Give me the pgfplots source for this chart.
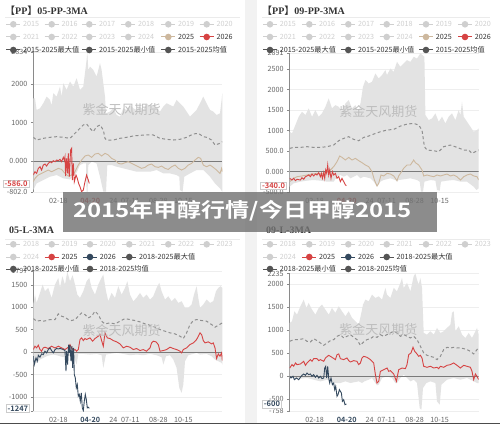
\documentclass[border=0pt]{standalone}
\usepackage{fontspec}
\usepackage{pgfplots}
\pgfplotsset{compat=1.18}
\setmainfont{Noto Sans CJK SC}[BoldFont={Noto Sans CJK SC Bold}]
\newfontfamily\serifb{Liberation Serif}
\definecolor{bandc}{HTML}{E3E3E3}
\definecolor{meanc}{HTML}{8F8F8F}
\definecolor{tanc}{HTML}{CDB89E}
\definecolor{redc}{HTML}{D64343}
\definecolor{navyc}{HTML}{34495E}
\definecolor{lightleg}{HTML}{CFCFCF}
\definecolor{darkleg}{HTML}{555555}
\definecolor{txtc}{HTML}{333333}
\definecolor{labc}{HTML}{666666}
\definecolor{gridc}{HTML}{EEEEEE}
\definecolor{axisc}{HTML}{8A8A8A}
\definecolor{zeroc}{HTML}{7A7A7A}
\definecolor{wmc}{HTML}{BDBDBD}
\definecolor{boxc}{HTML}{CCCCCC}
\newcommand{\legfont}{\fontsize{7.2}{8}\selectfont}
\newcommand{\legitem}[5]{%
  \draw[#3, line width=1pt] (#1pt-7pt,#2pt) -- (#1pt+7pt,#2pt);
  \fill[#3] (#1pt,#2pt) circle (3.3pt);
  \node[anchor=west, text=#5, inner sep=0pt, font=\legfont] at (#1pt+9.7pt,#2pt) {#4};}
\pgfplotsset{
  panel/.style={
    scale only axis, width=189pt, xmin=0, xmax=189, clip=true,
    axis x line*=bottom, axis y line*=left,
    x axis line style={draw=none},
    y axis line style={draw=axisc, line width=0.6pt, -},
    xtick={25,57,80,97,125,150},
    xtick style={draw=none},
    ytick style={draw=axisc, line width=0.5pt},
    tick align=outside, major tick length=2.5pt,
    ymajorgrids, grid style={draw=gridc, line width=0.5pt},
    tick label style={font=\fontsize{7.2}{8}\selectfont, text=labc},
  },
}
\tikzset{ptbox/.style={draw=boxc, fill=white, inner xsep=1.5pt, inner ysep=1pt,
    font=\bfseries\fontsize{7.5}{8}\selectfont, line width=0.4pt}}
\begin{document}
\begin{tikzpicture}
\fill[white] (0pt,0pt) rectangle (500pt,424pt);
\fill[black!5] (245pt,0pt) rectangle (257pt,424pt);
\draw[black!70, line width=1.2pt] (0pt,0.6pt) -- (500pt,0.6pt);

% ---------- titles and separators
\node[anchor=west, text=txtc, inner sep=0pt, font=\fontsize{10}{12}\selectfont\bfseries] at (5pt,413pt) {【{\serifb PP}】{\serifb 05-PP-3MA}};
\node[anchor=west, text=txtc, inner sep=0pt, font=\fontsize{10}{12}\selectfont\bfseries] at (262pt,413pt) {【{\serifb PP}】{\serifb 09-PP-3MA}};
\node[anchor=west, text=txtc, inner sep=0pt, font=\fontsize{10}{12}\selectfont\bfseries] at (9pt,193.5pt) {\serifb 05-L-3MA};
\node[anchor=west, text=txtc, inner sep=0pt, font=\fontsize{10}{12}\selectfont\bfseries] at (266pt,194pt) {\serifb 09-L-3MA};
\draw[black!8, line width=0.8pt] (5pt,406.7pt) -- (240pt,406.7pt);
\draw[black!8, line width=0.8pt] (262pt,406.7pt) -- (490pt,406.7pt);
\draw[black!8, line width=0.8pt] (5pt,185pt) -- (240pt,185pt);
\draw[black!8, line width=0.8pt] (262pt,185pt) -- (490pt,185pt);

% ================= Panel 1 =================
\begin{axis}[panel, at={(33.3pt,371.7pt)}, anchor=north west, height=139.5pt,
  ymin=-802, ymax=2834,
  ytick={-802,0,1000,2000,2834}, yticklabels={-802.0,0.000,1000,2000,2834},
  xticklabels={02-18,{\bfseries\color{redc}04-20},24,07-11,08-28,10-15}]
% band: 2015-2025 max (left to right), then min (right to left)
\addplot[fill=bandc, draw=none] coordinates {(0,1636)(1.7,1636)(3.3,1331)(6.7,1375)(10,1505)(13.3,1679)(16.7,1592)(18.3,1450)(20,1766)(23.3,1679)(26.7,1940)(28.3,1679)(30,2027)(33.3,1853)(36.7,2071)(40,1940)(43.3,2158)(46.7,1853)(50,1940)(53.3,2636)(54,2834)(55,2375)(56.7,2462)(60,2375)(63.3,2201)(66.7,2549)(68.3,2375)(70,2027)(71.7,1679)(72.7,1244)(76.7,1288)(80,1375)(83.3,1201)(86.7,1157)(90,1375)(93.3,1331)(96.7,1462)(100,1375)(103.3,1331)(106.7,1418)(110,1331)(113.3,1505)(116.7,1418)(120,1462)(123.3,1375)(126.7,1288)(130,1418)(133.3,1505)(136.7,1462)(140,1418)(143.3,1592)(146.7,1505)(150,1418)(153.3,1288)(156.7,1157)(160,1244)(163.3,1331)(166.7,1505)(170,1679)(173.3,1505)(176.7,1331)(180,1288)(183.3,1201)(186.7,1244)(188.3,1592)(189,1766)
(189,-800)(186.7,-713)(181.7,-583)(176.7,-409)(170,-235)(163.3,-235)(156.7,-322)(151,-409)(149.3,-800)(146.7,-757)(146,-409)(143.3,-365)(136.7,-322)(130,-322)(123.3,-235)(116.7,-278)(110,-278)(103.3,-278)(96.7,-235)(90,-191)(83.3,-148)(78.3,-104)(74,-104)(72.7,-800)(70,-800)(66.7,-409)(63.3,-61)(58.3,-17)(55,-104)(54.3,-802)(53.3,-802)(52.7,-61)(50,-61)(46.7,-104)(43.3,-300)(36.7,-480)(30,-450)(23.3,-365)(16.7,-409)(10,-496)(3.3,-583)(0,-757)};
\draw[zeroc, line width=0.8pt] (0,0) -- (189,0);
\addplot[meanc, dash pattern=on 3pt off 2.5pt, line width=1pt] coordinates {(0,618)(3.3,548)(10,592)(16.7,618)(23.3,635)(30,618)(36.7,592)(40,679)(45,809)(50,940)(53.3,966)(56.7,853)(60,766)(63.3,896)(66.7,940)(70,809)(71.7,592)(73.3,548)(80,548)(86.7,592)(93.3,618)(100,653)(106.7,670)(113.3,679)(120,679)(126.7,592)(133.3,566)(140,548)(146.7,566)(153.3,618)(160,705)(165,722)(170,635)(173.3,618)(178.3,548)(181.7,418)(186.7,461)(189,505)};
\addplot[tanc, line width=0.9pt] coordinates {(0,-539)(1.7,-452)(5,-365)(8.3,-322)(11.7,-278)(15,-235)(18.3,-278)(21.7,-235)(25,-191)(28.3,-218)(31.7,-322)(35,-392)(38.3,-365)(41.7,-278)(45,-104)(48.3,26)(51.7,131)(55,157)(58.3,96)(61.7,183)(65,200)(68.3,131)(71.7,200)(75,157)(78.3,70)(81.7,26)(85,-61)(88.3,-78)(91.7,-44)(95,-17)(98.3,-61)(101.7,-104)(105,-148)(108.3,-191)(111.7,-165)(115,-104)(118.3,-78)(121.7,-148)(125,-165)(128.3,-131)(131.7,-191)(135,-218)(138.3,-148)(141.7,-104)(145,-191)(148.3,-235)(151.7,-191)(155,-104)(158.3,-61)(161.7,26)(165,96)(167.3,70)(170,-104)(173.3,-148)(176.7,-104)(180,-165)(183.3,-235)(186.7,-322)(188.3,-191)(189,-278)};
\addplot[redc, line width=0.9pt] coordinates {(0,-365)(1.7,-278)(3.3,-322)(5,-191)(6.7,-148)(8.3,-235)(10,-104)(11.7,-78)(13.3,-131)(15,-61)(16.7,-17)(18.3,-44)(20,9)(21.7,-17)(23.3,26)(25,9)(26.7,44)(28.3,-17)(30,96)(31,26)(31.7,113)(32.3,-392)(33.3,70)(34.3,-322)(35,200)(36,-409)(37.3,287)(38.3,331)(39,-496)(40,-61)(41,-539)(42.7,-365)(44,-452)(45.3,-583)(46.7,-670)(48.3,-800)(50,-757)(51.7,-539)(53.3,-365)(55,-496)(56,-586)};
\coordinate (p1pt) at (0,-586);
\end{axis}

% ================= Panel 2 =================
\begin{axis}[panel, at={(289.7pt,371.1pt)}, anchor=north west, height=139.3pt,
  ymin=-500, ymax=2891,
  ytick={-500,0,500,1000,1500,2000,2500,2891}, yticklabels={-500.0,0.000,500.0,1000,1500,2000,2500,2891},
  xticklabels={02-18,{\bfseries\color{redc}04-20},24,07-11,08-28,10-15}]
\addplot[fill=bandc, draw=none] coordinates {(0,972)(2.3,932)(5.7,1134)(9,1337)(12.3,1458)(15.7,1377)(19,1539)(22.3,1337)(25.7,1499)(29,1337)(32.3,1418)(35.7,1580)(39,1782)(42.3,1539)(45.7,1620)(49,1580)(52.3,1458)(55.7,1661)(59,1742)(62.3,1539)(65.7,1620)(69,1418)(71.3,1742)(73.3,2066)(75.7,2228)(79,2147)(82.3,2187)(85.7,2390)(89,2268)(92.3,2349)(95.7,2471)(97.3,2349)(100.7,2511)(104,2430)(107.3,2673)(110.7,2552)(114,2633)(117.3,2714)(120.7,2673)(124,2795)(127.3,2754)(130.7,2880)(134.7,2795)(135.7,1377)(139,1256)(142.3,1296)(145.7,1418)(149,1215)(152.3,1337)(155.7,1175)(159,1337)(162.3,1418)(165.7,1256)(169,1499)(170.7,1377)(172.3,1701)(174,1337)(177.3,1215)(180.7,1094)(184,972)(187.3,1013)(189,1053)
(189,-405)(186.7,-446)(184,-365)(177.3,-243)(170.7,-243)(164,-203)(157.3,-219)(151.3,-243)(150,-462)(147.3,-446)(145.7,-219)(140.7,-203)(134.7,-243)(133.3,-486)(131.3,-486)(130,-243)(127.3,-203)(120.7,-162)(114,-186)(109,-203)(107.3,-243)(105.7,-203)(100.7,-162)(94,-203)(90.7,-243)(87.3,-365)(84,-243)(80.7,-162)(74,-122)(70.7,-162)(67.3,-81)(64,-122)(60.7,-162)(57.3,-81)(54,-122)(50.7,-81)(47.3,-122)(44,-243)(37.3,-243)(30.7,-219)(24,-203)(17.3,-219)(10.7,-243)(4,-284)(0,-365)};
\draw[zeroc, line width=0.8pt] (0,0) -- (189,0);
\addplot[meanc, dash pattern=on 3pt off 2.5pt, line width=1pt] coordinates {(0,567)(4,591)(10.7,591)(17.3,608)(24,591)(30.7,591)(37.3,608)(44,648)(49,753)(54,810)(59,851)(64,786)(69,753)(74,834)(79,867)(84,915)(90.7,972)(97.3,1013)(104,1029)(110.7,1110)(117.3,1158)(124,1175)(129,1134)(132.3,1013)(134.7,608)(137.3,527)(144,510)(149,486)(154,608)(160.7,648)(167.3,591)(174,527)(179,527)(182.3,446)(185.7,486)(189,527)};
\addplot[tanc, line width=0.9pt] coordinates {(0,-243)(4,-162)(7.3,-122)(12.3,-105)(17.3,-81)(22.3,-57)(27.3,-41)(32.3,-57)(37.3,0)(40.7,41)(44,122)(47.3,243)(50,381)(52.3,348)(55.7,284)(59,348)(62.3,284)(65.7,324)(69,267)(72.3,219)(75.7,162)(79,122)(82.3,0)(84.7,-203)(87.3,-348)(89,-284)(91.3,-81)(94,-105)(97.3,-41)(100.7,-57)(104,-105)(105.7,-162)(107.3,-219)(109,-105)(110.7,-41)(114,81)(117.3,162)(120.7,162)(124,284)(125.7,219)(129,162)(132.3,41)(134,-105)(137.3,-81)(140.7,-105)(144,-122)(147.3,-81)(150.7,-105)(154,-81)(157.3,-57)(160.7,-105)(164,-81)(167.3,-122)(170.7,-203)(174,-122)(177.3,-81)(180.7,-57)(184,-105)(187.3,-122)(189,-203)};
\addplot[redc, line width=0.9pt] coordinates {(0,-162)(2.3,-203)(4,-162)(5.7,-219)(7.3,-186)(10.7,-203)(12.3,-146)(14,-186)(15.7,-122)(17.3,-105)(19,-81)(20.7,-122)(22.3,-57)(24,-105)(25.7,-57)(27.3,-81)(29,-24)(30.7,-122)(31.7,-41)(32.7,-162)(34,-24)(35,-162)(36,41)(37,-41)(38,162)(39,-81)(40,41)(41.3,-162)(42.7,0)(44,-81)(45.7,-41)(47.3,-162)(49,-122)(50.7,-243)(52.3,-162)(54,-243)(55.7,-324)(56.7,-340)};
\coordinate (p2pt) at (0,-340);
\end{axis}

% ================= Panel 3 =================
\begin{axis}[panel, at={(33.3pt,152.6pt)}, anchor=north west, height=139.8pt,
  ymin=-1312, ymax=1797,
  ytick={-1312,-1000,-500,0,500,1000,1500,1797}, yticklabels={-1312,-1000,-500,0,500,1000,1500,1797},
  xticklabels={02-18,{\bfseries\color{navyc}04-20},24,07-11,08-28,10-15}]
\addplot[fill=bandc, draw=none] coordinates {(0,1060)(1.7,1282)(3.3,1097)(6.7,1319)(9.3,1504)(11.7,1356)(15,1430)(18.3,1208)(21.7,1504)(25,1652)(26.7,1430)(29,1689)(31.7,1504)(34,1790)(36.7,1578)(39.3,1712)(41.7,1504)(44,1282)(46.7,1208)(50,1356)(53.3,1578)(56,1652)(58.3,1430)(61.7,1282)(65,1504)(67.3,1615)(70,1727)(72.7,1356)(75,1134)(78.3,1319)(81.7,1208)(85,1467)(88.3,1282)(91.7,1430)(94,1578)(96.7,1282)(100,1134)(103.3,1208)(106.7,1319)(110,1208)(113.3,1282)(116.7,1171)(120,1245)(123.3,1430)(126,1541)(128.3,1356)(131.7,1171)(135,1245)(138.3,1134)(141.7,1208)(145,1097)(148.3,1134)(151.7,986)(155,986)(158.3,1060)(160.7,1282)(163.3,1467)(165,1208)(166.7,986)(170,1060)(173.3,1171)(176.7,1097)(180,1134)(182.7,1356)(185,1430)(187.3,1467)(189,1430)
(189,-274)(188.3,-237)(185,-200)(181.7,-163)(178.3,-89)(173.3,-37)(166.7,-52)(163.3,-15)(160,-37)(155,-67)(151.7,-200)(150,-719)(148.3,-904)(146,-793)(143.3,-348)(140,-163)(136.7,-67)(132.7,-89)(130,-274)(128.3,-111)(123.3,-67)(116.7,-37)(110,-67)(103.3,-52)(96.7,-67)(90,-37)(83.3,-15)(76.7,-37)(72.7,-52)(70,-348)(68.3,-67)(63.3,-37)(56.7,-52)(50,-37)(45,-37)(43.3,-274)(40,-67)(36.7,-89)(33.3,-67)(30,-111)(26.7,-89)(23.3,-67)(20,-52)(16.7,-67)(13.3,-89)(10,-126)(6.7,-163)(3.3,-237)(0,-274)};
\draw[zeroc, line width=0.8pt] (0,0) -- (189,0);
\addplot[meanc, dash pattern=on 3pt off 2.5pt, line width=1pt] coordinates {(0,748)(3.3,689)(6.7,704)(10,689)(13.3,704)(16.7,726)(21.7,726)(25,852)(28.3,800)(31.7,778)(35,726)(38.3,704)(41.7,726)(45,800)(48.3,874)(51.7,837)(55,763)(58.3,800)(61.7,911)(65,837)(68.3,689)(71.7,630)(76.7,652)(81.7,630)(86.7,689)(91.7,748)(96.7,726)(101.7,704)(106.7,674)(111.7,630)(116.7,600)(121.7,556)(126.7,504)(131.7,467)(136.7,430)(141.7,408)(146.7,356)(150,304)(153.3,430)(156.7,615)(160,704)(163.3,726)(168.3,704)(173.3,689)(178.3,615)(181.7,556)(185,600)(189,652)};
\addplot[redc, line width=0.9pt] coordinates {(0,59)(1.7,133)(3.3,96)(5,156)(6.7,59)(8.3,22)(10,96)(11.7,111)(15,82)(18.3,133)(21.7,96)(25,133)(28.3,96)(31.7,59)(35,111)(36.7,170)(38.3,96)(40,37)(41.7,59)(43.3,22)(45,59)(46.7,282)(48.3,319)(50,259)(51.7,304)(53.3,282)(56.7,319)(59.3,245)(61.7,304)(65,356)(66.7,393)(68.3,259)(70,133)(71.7,430)(74,319)(76.7,304)(80,259)(83.3,230)(86.7,185)(90,96)(93.3,133)(96.7,111)(100,59)(103.3,82)(106.7,37)(110,59)(113.3,22)(116.7,96)(118.3,207)(120,245)(122.7,230)(125,170)(126.7,22)(130,37)(133.3,59)(136.7,111)(140,82)(143.3,59)(146.7,22)(148.3,-15)(150,59)(153.3,96)(156.7,170)(160,207)(163.3,282)(165,356)(166.7,430)(168.3,393)(170,259)(171.7,207)(175,230)(178.3,185)(180,207)(181.7,96)(183.3,-141)(185,-37)(186.7,-89)(188.3,-15)(189,-185)};
\addplot[navyc, line width=0.9pt] coordinates {(0,-89)(1,-274)(2.7,-126)(4,-200)(5,-67)(6.7,-111)(8.3,-37)(10,-52)(11.7,22)(13.3,-15)(15,59)(16.7,96)(18.3,37)(20,-15)(21.7,59)(23.3,82)(25,74)(26.7,82)(28.3,74)(30,59)(31.7,37)(32.7,-422)(33.3,22)(34.3,-274)(35.3,170)(36,-15)(36.7,156)(37.7,-200)(38.7,133)(39.3,-348)(40.3,96)(41,-496)(42,-571)(43,-793)(44,-719)(45,-978)(46,-941)(47,-1089)(48,-904)(49,-1237)(50,-1300)(51,-1089)(52,-941)(53,-1052)(54,-1237)(55,-1223)(56,-1247)};
\coordinate (p3pt) at (0,-1247);
\end{axis}

% ================= Panel 4 =================
\begin{axis}[panel, at={(289.7pt,150.5pt)}, anchor=north west, height=137.7pt,
  ymin=-758, ymax=2235,
  ytick={-758,-500,0,500,1000,1500,2000,2235}, yticklabels={-758,-500,0,500,1000,1500,2000,2235},
  xticklabels={02-18,{\bfseries\color{navyc}04-20},24,07-11,08-28,10-15}]
\addplot[fill=bandc, draw=none] coordinates {(0,1160)(2.3,1196)(4.7,1414)(7.3,1341)(10.7,1523)(14,1668)(16.7,1486)(19,1595)(22.3,1450)(25.7,1341)(29,1486)(32.3,1559)(35.7,1450)(39,1341)(42.3,1486)(45.7,1378)(49,1523)(52.3,1414)(55.7,1305)(59,1414)(62.3,1269)(65.7,1196)(69,1124)(71.3,1341)(73.3,1559)(75.7,1668)(79,1631)(82.3,1776)(85.7,1704)(89,1740)(92.3,1668)(95.7,1921)(97.3,1776)(100.7,1704)(104,1921)(107.3,1849)(110.7,2030)(112.3,2139)(114,1921)(117.3,2030)(120.7,1849)(124,2175)(125.7,2235)(127.3,2103)(129,1994)(130.7,2139)(132.3,1921)(134,943)(137.3,906)(140.7,979)(144,906)(147.3,1051)(150.7,943)(154,979)(157.3,1051)(160.7,1124)(162.3,1378)(164,1414)(165.7,979)(169,1088)(172.3,906)(175.7,834)(179,943)(182.3,834)(185.7,979)(187.3,1051)(189,906)
(189,-145)(187.3,-145)(184,-109)(177.3,-36)(170.7,-73)(164,-36)(157.3,-73)(151.7,-181)(150,-616)(147.3,-544)(145.7,-145)(140.7,-109)(136.7,-145)(133.3,-254)(131.7,-725)(130,-689)(127.3,-145)(124,-73)(120.7,-109)(117.3,-36)(114,36)(110.7,-36)(107.3,-145)(105.7,-145)(102.3,-36)(97.3,0)(92.3,-36)(89,-181)(87.3,-196)(85.7,-145)(82.3,-36)(79,-73)(74.7,-109)(72.3,-145)(69,-109)(65.7,-123)(60.7,-145)(55.7,-109)(50.7,-145)(45.7,-145)(42.3,-109)(37.3,-73)(30.7,-109)(24,-73)(17.3,-36)(10.7,-51)(4,-36)(0,-36)};
\draw[zeroc, line width=0.8pt] (0,0) -- (189,0);
\addplot[meanc, dash pattern=on 3pt off 2.5pt, line width=1pt] coordinates {(0,761)(4,798)(9,798)(14,819)(17.3,761)(20.7,747)(24,819)(27.3,776)(30.7,725)(34,674)(37.3,725)(40.7,776)(44,798)(47.3,870)(50.7,906)(54,834)(57.3,870)(60.7,906)(64,848)(67.3,798)(70.7,674)(74,747)(77.3,798)(80.7,819)(84,870)(87.3,848)(90.7,906)(94,870)(97.3,906)(100.7,943)(104,979)(107.3,943)(110.7,870)(114,906)(117.3,870)(120.7,834)(124,870)(127.3,798)(130.7,653)(134,508)(137.3,457)(140.7,435)(144,413)(147.3,363)(150.7,435)(154,580)(157.3,631)(160.7,616)(164,631)(167.3,616)(170.7,616)(174,602)(177.3,580)(180.7,544)(184,486)(187.3,580)(189,631)};
\addplot[redc, line width=0.9pt] coordinates {(0,181)(2.3,254)(4,218)(5.7,290)(7.3,254)(10.7,268)(14,326)(15.7,239)(17.3,290)(20.7,363)(22.3,326)(24,384)(27.3,384)(29,341)(30.7,363)(34,326)(35.7,399)(39,457)(42.3,413)(45.7,363)(47.3,471)(49,486)(50.7,384)(54,363)(57.3,399)(59,341)(60.7,312)(64,341)(67.3,326)(69,254)(70.7,290)(72.3,399)(74,435)(77.3,413)(80.7,363)(84,290)(85.7,36)(87.3,-145)(89,-109)(90.7,109)(94,145)(97.3,181)(99,109)(100.7,123)(104,51)(106.7,-109)(109,145)(112.3,181)(115.7,167)(117.3,254)(119,471)(121.3,508)(123.3,631)(125,544)(127.3,486)(129,435)(130.7,457)(132.3,399)(134,218)(137.3,196)(140.7,218)(144,181)(147.3,196)(149,167)(150.7,218)(154,196)(157.3,239)(160.7,254)(164,290)(167.3,239)(170.7,181)(174,239)(177.3,218)(180.7,196)(182.3,109)(184,-72)(185.7,51)(187.3,0)(189,-72)};
\addplot[navyc, line width=0.9pt] coordinates {(0,0)(1.3,-36)(3.3,0)(4.7,-73)(6.7,-36)(9,-73)(10.7,-22)(12.3,22)(14,51)(15.7,22)(17.3,73)(19,36)(20.7,51)(22.3,0)(24,36)(25.7,-22)(27.3,22)(29,-36)(30.7,0)(32.3,-51)(34,-36)(35,181)(36,218)(37,-36)(38,218)(39,-36)(40,-145)(41.3,-36)(42.7,-181)(44,-145)(45,-290)(46,-218)(47.3,-435)(48.3,-399)(49.7,-290)(50.7,-326)(51.7,-363)(52.7,-544)(54,-508)(55.3,-616)(56.7,-600)};
\coordinate (p4pt) at (0,-600);
\end{axis}

% ---------- pointer label boxes
\node[ptbox, text=redc, anchor=east] at ([xshift=-4pt]p1pt) {-586.0};
\node[ptbox, text=redc, anchor=east] at ([xshift=-3pt]p2pt) {-340.0};
\node[ptbox, text=navyc, anchor=east] at ([xshift=-3.5pt]p3pt) {-1247};
\node[ptbox, text=navyc, anchor=east] at ([xshift=-8pt]p4pt) {-600};

% ---------- watermarks
\node[text=wmc, font=\fontsize{13}{14}\selectfont] at (121.7pt,314pt) {紫金天风期货};
\node[text=wmc, font=\fontsize{13}{14}\selectfont] at (378.3pt,312.3pt) {紫金天风期货};
\node[text=wmc, font=\fontsize{13}{14}\selectfont] at (121.7pt,93pt) {紫金天风期货};
\node[text=wmc, font=\fontsize{13}{14}\selectfont] at (378.3pt,94pt) {紫金天风期货};

% ---------- legends panel 1
\legitem{13.3}{399.7}{lightleg}{2015}{lightleg}
\legitem{51.7}{399.7}{lightleg}{2016}{lightleg}
\legitem{89.3}{399.7}{lightleg}{2017}{lightleg}
\legitem{128.3}{399.7}{lightleg}{2018}{lightleg}
\legitem{168.3}{399.7}{lightleg}{2019}{lightleg}
\legitem{206.7}{399.7}{lightleg}{2020}{lightleg}
\legitem{13.3}{387}{lightleg}{2021}{lightleg}
\legitem{51.7}{387}{lightleg}{2022}{lightleg}
\legitem{89.3}{387}{lightleg}{2023}{lightleg}
\legitem{128.3}{387}{lightleg}{2024}{lightleg}
\legitem{168.3}{387}{tanc}{2025}{txtc}
\legitem{206.7}{387}{redc}{2026}{txtc}
\legitem{13.3}{374}{darkleg}{2015-2025最大值}{txtc}
\legitem{89.3}{374}{darkleg}{2015-2025最小值}{txtc}
\legitem{168.3}{374}{darkleg}{2015-2025均值}{txtc}
% ---------- legends panel 2
\legitem{270}{399.7}{lightleg}{2015}{lightleg}
\legitem{309.3}{399.7}{lightleg}{2016}{lightleg}
\legitem{348.3}{399.7}{lightleg}{2017}{lightleg}
\legitem{386.7}{399.7}{lightleg}{2018}{lightleg}
\legitem{426}{399.7}{lightleg}{2019}{lightleg}
\legitem{465}{399.7}{lightleg}{2020}{lightleg}
\legitem{270}{387}{lightleg}{2021}{lightleg}
\legitem{309.3}{387}{lightleg}{2022}{lightleg}
\legitem{348.3}{387}{lightleg}{2023}{lightleg}
\legitem{386.7}{387}{lightleg}{2024}{lightleg}
\legitem{426}{387}{tanc}{2025}{txtc}
\legitem{465}{387}{redc}{2026}{txtc}
\legitem{270}{374}{darkleg}{2015-2025最大值}{txtc}
\legitem{348.3}{374}{darkleg}{2015-2025最小值}{txtc}
\legitem{426}{374}{darkleg}{2015-2025均值}{txtc}
% ---------- legends panel 3
\legitem{13.3}{179.7}{lightleg}{2018}{lightleg}
\legitem{51.7}{179.7}{lightleg}{2019}{lightleg}
\legitem{90}{179.7}{lightleg}{2020}{lightleg}
\legitem{129.3}{179.7}{lightleg}{2021}{lightleg}
\legitem{168.3}{179.7}{lightleg}{2022}{lightleg}
\legitem{206.7}{179.7}{lightleg}{2023}{lightleg}
\legitem{13.3}{167}{lightleg}{2024}{lightleg}
\legitem{51.7}{167}{redc}{2025}{txtc}
\legitem{90}{167}{navyc}{2026}{txtc}
\legitem{129.3}{167}{darkleg}{2018-2025最大值}{txtc}
\legitem{13.3}{155}{darkleg}{2018-2025最小值}{txtc}
\legitem{90}{155}{darkleg}{2018-2025均值}{txtc}
% ---------- legends panel 4
\legitem{270}{179.7}{lightleg}{2018}{lightleg}
\legitem{309.3}{179.7}{lightleg}{2019}{lightleg}
\legitem{348.3}{179.7}{lightleg}{2020}{lightleg}
\legitem{386.7}{179.7}{lightleg}{2021}{lightleg}
\legitem{426}{179.7}{lightleg}{2022}{lightleg}
\legitem{465}{179.7}{lightleg}{2023}{lightleg}
\legitem{270}{167}{lightleg}{2024}{lightleg}
\legitem{309.3}{167}{redc}{2025}{txtc}
\legitem{348.3}{167}{navyc}{2026}{txtc}
\legitem{386.7}{167}{darkleg}{2018-2025最大值}{txtc}
\legitem{270}{155}{darkleg}{2018-2025最小值}{txtc}
\legitem{348.3}{155}{darkleg}{2018-2025均值}{txtc}

% ---------- banner
\fill[black!55, opacity=0.82] (63pt,192pt) rectangle (437pt,232pt);
\node[text=white, font=\fontsize{20}{22}\selectfont\bfseries] at (242.5pt,213pt) {\scalebox{1.2}[1]{2015年甲醇行情/今日甲醇2015}};
\pgfresetboundingbox
\useasboundingbox (0pt,0pt) rectangle (500pt,424pt);
\end{tikzpicture}
\end{document}
